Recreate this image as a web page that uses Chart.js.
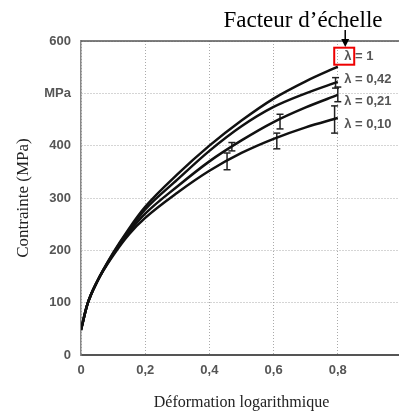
<!DOCTYPE html>
<html>
<head>
<meta charset="utf-8">
<script src="https://cdn.jsdelivr.net/npm/chart.js@4"></script>
<style>
  body { margin: 0; overflow: hidden; background: #fff; }
</style>
</head>
<body>
<canvas id="chart" width="420" height="416"></canvas>
<script>
// strain points
const strain = [0, 0.02, 0.05, 0.1, 0.15, 0.2, 0.3, 0.4, 0.5, 0.6, 0.7, 0.8];
const stressL100 = [48, 97, 140, 195, 242, 283, 345, 400, 448, 490, 523, 551];
const stressL042 = [48, 97, 140, 194, 239, 278, 335, 390, 437, 474, 500, 522];
const stressL021 = [48, 97, 140, 192, 235, 270, 322, 370, 410, 445, 473, 497];
const stressL010 = [48, 97, 140, 190, 231, 262, 310, 352, 386, 413, 435, 453];
const lambdaLabels = ['\u03bb = 1', '\u03bb = 0,42', '\u03bb = 0,21', '\u03bb = 0,10'];

// error bars
const errX = [0.455, 0.47, 0.61, 0.62, 0.793, 0.8, 0.79];
const errLow = [354, 390, 394, 432, 510, 484, 424];
const errHigh = [386, 406, 424, 460, 530, 512, 476];

const xTicks = [0, 0.2, 0.4, 0.6, 0.8, 1];
const yTicks = [0, 100, 200, 300, 400, 500, 600];

function toPoints(ys) {
  return strain.map((x, i) => ({x: x, y: ys[i]}));
}

const curves = [stressL100, stressL042, stressL021, stressL010].map((ys, i) => ({
  label: lambdaLabels[i],
  data: toPoints(ys),
  borderColor: '#111',
  borderWidth: 2.5,
  pointRadius: 0,
  cubicInterpolationMode: 'monotone',
  fill: false
}));

const bars = errX.map((x, i) => ({
  label: 'err' + i,
  data: [{x: x, y: errLow[i]}, {x: x, y: errHigh[i]}],
  borderColor: '#222',
  borderWidth: 1.5,
  pointStyle: 'line',
  pointRadius: 3.5,
  pointBorderWidth: 1.5,
  pointBorderColor: '#222',
  fill: false
}));

const annotations = {
  id: 'annotations',
  afterDraw(chart) {
    const ctx = chart.ctx;
    const area = chart.chartArea;
    const xs = chart.scales.x, ys = chart.scales.y;
    ctx.save();
    // top frame
    ctx.strokeStyle = '#555';
    ctx.lineWidth = 1.5;
    ctx.beginPath();
    ctx.moveTo(area.left, area.top);
    ctx.lineTo(area.right, area.top);
    ctx.stroke();

    // lambda labels
    ctx.fillStyle = '#555';
    ctx.font = 'bold 13px "Liberation Sans", Arial, sans-serif';
    ctx.textBaseline = 'middle';
    ctx.textAlign = 'left';
    const lx = xs.getPixelForValue(0.82);
    lambdaLabels.forEach((t, i) => {
      ctx.fillText(t, lx, ys.getPixelForValue(570 - i * 43));
    });

    // red box around first lambda
    const by = ys.getPixelForValue(570);
    ctx.strokeStyle = '#e00';
    ctx.lineWidth = 2;
    ctx.strokeRect(lx - 10, by - 9, 20, 17);

    // arrow
    const ax = lx + 1;
    ctx.strokeStyle = '#000';
    ctx.lineWidth = 1.5;
    ctx.beginPath();
    ctx.moveTo(ax, 30);
    ctx.lineTo(ax, 40);
    ctx.stroke();
    ctx.fillStyle = '#000';
    ctx.beginPath();
    ctx.moveTo(ax - 4, 39);
    ctx.lineTo(ax + 4, 39);
    ctx.lineTo(ax, 47);
    ctx.closePath();
    ctx.fill();

    // title
    ctx.font = '23px "Liberation Serif", "Times New Roman", serif';
    ctx.textAlign = 'center';
    ctx.textBaseline = 'alphabetic';
    ctx.fillText('Facteur d\u2019\u00e9chelle', 303, 27);
    ctx.restore();
  }
};

document.addEventListener('DOMContentLoaded', function() {
  const ctx = document.getElementById('chart').getContext('2d');
  new Chart(ctx, {
    type: 'line',
    data: { datasets: curves.concat(bars) },
    options: {
      responsive: false,
      animation: false,
      layout: { padding: { top: 41, right: 18, left: 0, bottom: 0 } },
      plugins: { legend: { display: false }, tooltip: { enabled: false } },
      scales: {
        x: {
          type: 'linear',
          min: 0, max: 1,
          afterBuildTicks: s => { s.ticks = xTicks.map(v => ({value: v})); },
          afterFit: s => { s.height = 61; },
          ticks: {
            padding: 8,
            color: '#555',
            font: { family: '"Liberation Sans", Arial, sans-serif', size: 13, weight: 'bold' },
            callback: v => String(v).replace('.', ',')
          },
          grid: { color: '#aaa', lineWidth: 1, drawTicks: false },
          border: { color: '#555', width: 2, dash: [1, 2] },
          title: {
            display: true,
            text: 'D\u00e9formation logarithmique',
            color: '#222',
            font: { family: '"Liberation Serif", "Times New Roman", serif', size: 16 },
            padding: { top: 0, bottom: 4 }
          }
        },
        y: {
          min: 0, max: 600,
          afterBuildTicks: s => { s.ticks = yTicks.map(v => ({value: v})); },
          afterFit: s => { s.width = 81; },
          ticks: {
            padding: 10,
            color: '#555',
            font: { family: '"Liberation Sans", Arial, sans-serif', size: 13, weight: 'bold' },
            callback: v => v === 500 ? 'MPa' : String(v)
          },
          grid: { color: '#aaa', lineWidth: 1, drawTicks: false },
          border: { color: '#888', width: 1.5, dash: [1, 2] },
          title: {
            display: true,
            text: 'Contrainte (MPa)',
            color: '#222',
            font: { family: '"Liberation Serif", "Times New Roman", serif', size: 17 },
            padding: { top: 13, bottom: 0 }
          }
        }
      }
    },
    plugins: [annotations]
  });
});
</script>
</body>
</html>
